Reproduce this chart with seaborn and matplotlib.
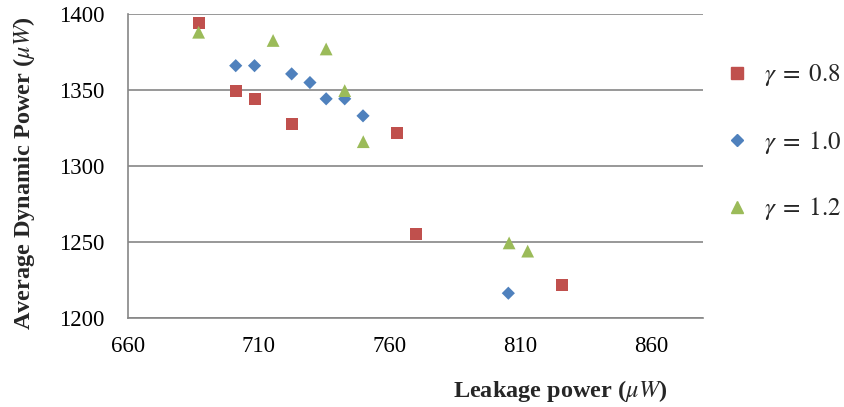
import matplotlib
matplotlib.use("Agg")
import matplotlib.pyplot as plt
import seaborn as sns
import pandas as pd
from matplotlib.lines import Line2D

# data
x_g08 = [687, 701.2, 708.4, 722.6, 763, 770.2, 826]
y_g08 = [1394, 1349.6, 1344.2, 1327.5, 1322, 1255.2, 1221.8]
x_g10 = [701.2, 708.4, 722.6, 729.6, 735.8, 742.9, 749.9, 805.5]
y_g10 = [1366, 1366, 1360.6, 1354.9, 1344.2, 1344.2, 1333, 1216.3]
x_g12 = [687, 715.5, 735.8, 742.9, 750, 805.8, 812.9]
y_g12 = [1388, 1382.6, 1377, 1349.6, 1316, 1249.4, 1244]
series_labels = [r"$\gamma\;=\;0.8$", r"$\gamma\;=\;1.0$", r"$\gamma\;=\;1.2$"]
x_ticks = [660, 710, 760, 810, 860]
y_ticks = [1200, 1250, 1300, 1350, 1400]

sns.set_style("white")
plt.rcParams["font.family"] = ["Liberation Serif", "DejaVu Serif"]
plt.rcParams["mathtext.fontset"] = "stix"

df = pd.concat([
    pd.DataFrame({"x": x_g08, "y": y_g08, "g": series_labels[0]}),
    pd.DataFrame({"x": x_g10, "y": y_g10, "g": series_labels[1]}),
    pd.DataFrame({"x": x_g12, "y": y_g12, "g": series_labels[2]}),
])

colors = ["#C0504D", "#4F81BD", "#9BBB59"]
markers = ["s", "D", "^"]
sizes = [75, 45, 85]

fig = plt.figure(figsize=(8.44, 4.07), dpi=100)
ax = fig.add_axes([0.1517, 0.2187, 0.833 - 0.1517, 0.9656 - 0.2187])

for lab, c, m, s in zip(series_labels, colors, markers, sizes):
    sub = df[df["g"] == lab]
    sns.scatterplot(data=sub, x="x", y="y", ax=ax, color=c, marker=m, s=s,
                    edgecolor="none", linewidth=0, legend=False, zorder=3)

ax.set_xlim(660, 880)
ax.set_ylim(1200, 1400)
ax.set_xticks(x_ticks)
ax.set_yticks(y_ticks)
ax.tick_params(axis="both", labelsize=16.5, colors="black", length=6,
               direction="out", width=1)
ax.tick_params(axis="x", color="#868686", pad=7)
ax.tick_params(axis="y", color="#868686", pad=11)
ax.grid(axis="y", color="#868686", linewidth=1.2)
ax.set_axisbelow(True)
for sp in ["top", "right"]:
    ax.spines[sp].set_visible(False)
for sp in ["left", "bottom"]:
    ax.spines[sp].set_color("#868686")
    ax.spines[sp].set_linewidth(1.2)

ax.set_xlabel(r"Leakage power ($\mu W$)", fontsize=17.5, fontweight="bold")
ax.set_ylabel(r"Average Dynamic Power ($\mu W$)", fontsize=17.5, fontweight="bold")
ax.xaxis.set_label_coords((560 - 128) / (703 - 128), -(378 - 318) / (318 - 14))
ax.yaxis.set_label_coords(-(128 - 37) / (703 - 128), (318 - 173) / (318 - 14))

handles = [Line2D([], [], linestyle="none", marker=m, color=c, markersize=ms)
           for c, m, ms in zip(colors, markers, [9, 6, 8])]
leg = fig.legend(handles, series_labels, loc="upper left",
                 bbox_to_anchor=(702 / 844, 1 - 40 / 407), frameon=False,
                 fontsize=18, labelspacing=1.6, handletextpad=0.6,
                 handlelength=1.0)

fig.savefig("out.png", dpi=100)
